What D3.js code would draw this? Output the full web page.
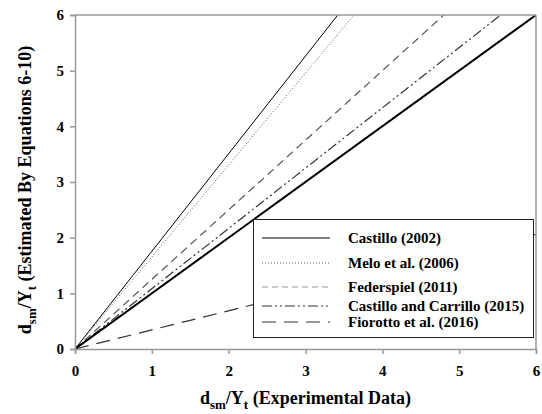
<!DOCTYPE html>
<html>
<head>
<script src="https://d3js.org/d3.v7.min.js"></script>
<style>
  body { margin: 0; background: #fff; }
  text { font-family: "Liberation Serif", "Times New Roman", serif; font-weight: bold; }
</style>
</head>
<body>
<script>
  // data
  var seriesNames = ["Castillo (2002)", "Melo et al. (2006)", "Federspiel (2011)",
    "Castillo and Carrillo (2015)", "Fiorotto et al. (2016)"];
  var seriesEndX = [3.42, 3.63, 4.80, 5.54, 6];
  var seriesEndY = [6, 6, 6, 6, 2.06];
  var refLine = [[0, 0], [6, 6]];   // 1:1 line
  var xTicks = [0, 1, 2, 3, 4, 5, 6];
  var yTicks = [0, 1, 2, 3, 4, 5, 6];
  var legendY = [238, 263, 287, 306, 322];

  var styles = [
    { dash: null, color: "#000", w: 1 },
    { dash: "1,2", color: "#555", w: 1 },
    { dash: "8,5", color: "#555", w: 1.2 },
    { dash: "10,3,2,3,2,3", color: "#333", w: 1.2 },
    { dash: "14,8", color: "#333", w: 1.2 }
  ];

  var width = 542, height = 414;
  var margin = { top: 15, right: 6, bottom: 65, left: 75 };

  var svg = d3.select("body").append("svg")
    .attr("width", width)
    .attr("height", height);

  var x = d3.scaleLinear().domain([0, 6]).range([margin.left, width - margin.right]);
  var y = d3.scaleLinear().domain([0, 6]).range([height - margin.bottom, margin.top]);

  svg.append("clipPath").attr("id", "clip")
    .append("rect")
    .attr("x", x(0)).attr("y", y(6))
    .attr("width", x(6) - x(0)).attr("height", y(0) - y(6));

  var line = d3.line().x(function(d) { return x(d[0]); }).y(function(d) { return y(d[1]); });

  var plot = svg.append("g").attr("clip-path", "url(#clip)");

  seriesNames.forEach(function(name, i) {
    plot.append("path")
      .attr("d", line([[0, 0], [seriesEndX[i], seriesEndY[i]]]))
      .attr("fill", "none")
      .attr("stroke", styles[i].color)
      .attr("stroke-width", styles[i].w)
      .attr("stroke-dasharray", styles[i].dash);
  });

  plot.append("path")
    .attr("d", line(refLine))
    .attr("fill", "none")
    .attr("stroke", "#000")
    .attr("stroke-width", 2);

  // axes
  var axisColor = "#999";
  var xAxis = svg.append("g")
    .attr("transform", "translate(0," + y(0) + ")")
    .call(d3.axisBottom(x).tickValues(xTicks).tickFormat(d3.format("d")).tickSize(5).tickPadding(11));
  var yAxis = svg.append("g")
    .attr("transform", "translate(" + x(0) + ",0)")
    .call(d3.axisLeft(y).tickValues(yTicks).tickFormat(d3.format("d")).tickSize(5).tickPadding(6));

  [xAxis, yAxis].forEach(function(g) {
    g.select(".domain").attr("stroke", axisColor).attr("stroke-width", 1.5);
    g.selectAll(".tick line").attr("stroke", axisColor).attr("stroke-width", 1.5);
    g.selectAll(".tick text")
      .attr("fill", "#000")
      .style("font-family", "'Liberation Serif', serif")
      .style("font-weight", "bold")
      .style("font-size", "15px");
  });

  // frame top/right
  svg.append("line")
    .attr("x1", x(0)).attr("x2", x(6)).attr("y1", y(6)).attr("y2", y(6))
    .attr("stroke", axisColor).attr("stroke-width", 1.5);
  svg.append("line")
    .attr("x1", x(6)).attr("x2", x(6)).attr("y1", y(6)).attr("y2", y(0))
    .attr("stroke", axisColor).attr("stroke-width", 1.5);

  // legend
  var legend = svg.append("g");
  legend.append("rect")
    .attr("x", 253.5).attr("y", 219.5)
    .attr("width", 280).attr("height", 118)
    .attr("fill", "#fff")
    .attr("stroke", "#222")
    .attr("stroke-width", 1);

  seriesNames.forEach(function(name, i) {
    legend.append("line")
      .attr("x1", 262).attr("x2", 330)
      .attr("y1", legendY[i]).attr("y2", legendY[i])
      .attr("stroke", i === 2 ? "#999" : styles[i].color)
      .attr("stroke-width", i === 2 ? 1 : styles[i].w)
      .attr("stroke-dasharray", i === 2 ? "6,4" : styles[i].dash);
    legend.append("text")
      .attr("x", 348).attr("y", legendY[i])
      .attr("dy", "0.33em")
      .style("font-size", "15px")
      .text(name);
  });

  // axis titles
  function title(t, label) {
    t.append("tspan").text("d");
    t.append("tspan").attr("dy", 5).style("font-size", "13px").text("sm");
    t.append("tspan").attr("dy", -5).text("/Y");
    t.append("tspan").attr("dy", 5).style("font-size", "13px").text("t");
    t.append("tspan").attr("dy", -5).text(label);
  }

  var xt = svg.append("text")
    .attr("x", (x(0) + x(6)) / 2)
    .attr("y", 404)
    .attr("text-anchor", "middle")
    .style("font-size", "18px");
  title(xt, " (Experimental Data)");

  var yt = svg.append("text")
    .attr("transform", "translate(31,190) rotate(-90)")
    .attr("text-anchor", "middle")
    .style("font-size", "18px");
  title(yt, " (Estimated By Equations 6-10)");
</script>
</body>
</html>
